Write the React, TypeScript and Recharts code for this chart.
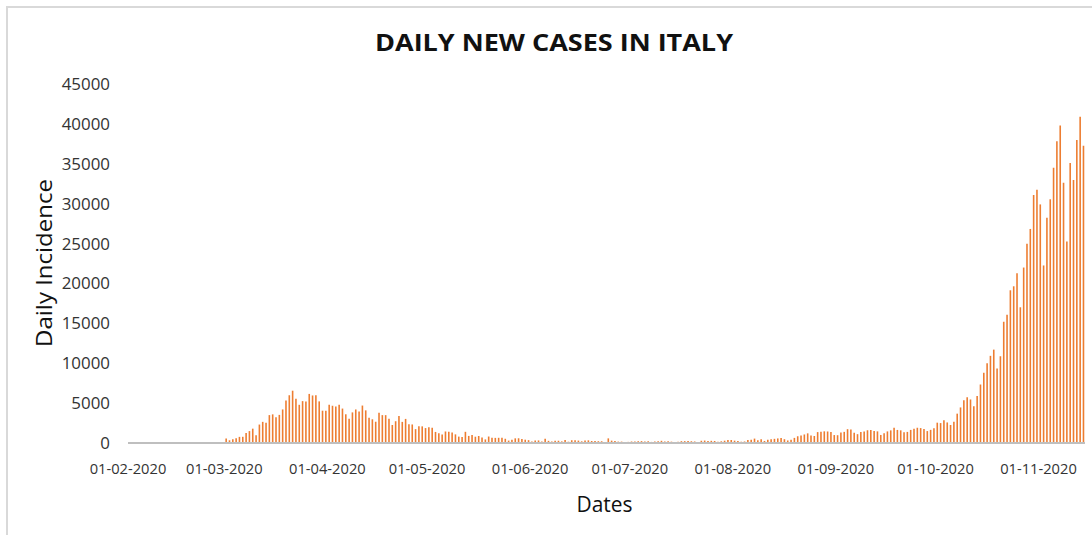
import React from "react";
import { BarChart, Bar, XAxis, YAxis } from "recharts";

// daily new cases, one array per month (01-02-2020 .. 14-11-2020)
const feb = [
  0, 0, 0, 0, 0, 0, 0, 0, 0, 0, 0, 0, 0, 0, 0, 0, 0, 0, 0, 0, 0, 0, 0, 0, 0, 0, 0, 0, 0,
];
const mar = [
  566, 342, 466, 587, 769, 778, 1247, 1492, 1797, 977, 2313, 2651, 2547, 3497, 3590, 3233,
  3526, 4207, 5322, 5986, 6557, 5560, 4789, 5249, 5210, 6153, 5959, 5974, 5217, 4050, 4053,
];
const apr = [
  4782, 4668, 4585, 4805, 4316, 3599, 3039, 3836, 4204, 3951, 4694, 4092, 3153, 2972, 2667,
  3786, 3493, 3491, 3047, 2256, 2729, 3370, 2646, 3021, 2357, 2324, 1739, 2091, 2086, 1872,
];
const may = [
  1965, 1900, 1389, 1221, 1075, 1444, 1401, 1327, 1083, 802, 744, 1402, 888, 992, 789, 875,
  675, 451, 813, 665, 642, 652, 669, 531, 300, 397, 584, 593, 516, 416, 355,
];
const jun = [
  178, 318, 321, 177, 518, 270, 197, 280, 283, 202, 379, 163, 346, 338, 301, 210, 329, 333,
  251, 262, 224, 218, 122, 580, 296, 259, 175, 174, 126, 142,
];
const jul = [
  187, 201, 223, 235, 192, 208, 138, 193, 229, 276, 188, 234, 169, 114, 162, 230, 233, 249,
  219, 190, 129, 282, 306, 252, 275, 255, 170, 212, 289, 386, 379,
];
const aug = [
  295, 239, 159, 190, 384, 402, 552, 347, 463, 259, 412, 481, 523, 574, 629, 479, 320, 403,
  642, 845, 947, 1071, 1210, 953, 878, 1367, 1411, 1462, 1444, 1365, 996,
];
const sep = [
  978, 1326, 1397, 1733, 1695, 1297, 1108, 1370, 1434, 1597, 1616, 1501, 1458, 1008, 1229,
  1452, 1585, 1907, 1638, 1587, 1350, 1392, 1640, 1786, 1912, 1869, 1766, 1494, 1648, 1851,
];
const oct = [
  2548, 2499, 2844, 2578, 2257, 2677, 3678, 4458, 5372, 5724, 5456, 4619, 5901, 7332, 8804,
  10010, 10925, 11705, 9338, 10874, 15199, 16079, 19143, 19644, 21273, 17012, 21994, 24991,
  26831, 31084, 31758,
];
const nov = [
  29907, 22253, 28244, 30550, 34505, 37809, 39811, 32616, 25271, 35098, 32961, 37978, 40902,
  37255,
];

const months = ["02", "03", "04", "05", "06", "07", "08", "09", "10", "11"];
const monthValues = [feb, mar, apr, may, jun, jul, aug, sep, oct, nov];

const monthTicks = [
  "01-02-2020", "01-03-2020", "01-04-2020", "01-05-2020", "01-06-2020",
  "01-07-2020", "01-08-2020", "01-09-2020", "01-10-2020", "01-11-2020",
];
const yTicks = [0, 5000, 10000, 15000, 20000, 25000, 30000, 35000, 40000, 45000];

const data: { date: string; cases: number }[] = [];
monthValues.forEach((vals, m) => {
  vals.forEach((v, d) => {
    data.push({ date: `${String(d + 1).padStart(2, "0")}-${months[m]}-2020`, cases: v });
  });
});

const W = 1092;
const H = 535;
const PLOT_LEFT = 128;
const PLOT_RIGHT = 1085;
const band = (PLOT_RIGHT - PLOT_LEFT) / data.length;

const font = "'Open Sans', 'Noto Sans', sans-serif";

const DateTick = (props: any) => {
  const { x, y, payload } = props;
  if (!monthTicks.includes(payload.value)) return <g />;
  return (
    <text
      x={x - band / 2}
      y={y + 31}
      textAnchor="middle"
      fontFamily={font}
      fontSize={14.7}
      fill="#333"
    >
      {payload.value}
    </text>
  );
};

export default function App() {
  return (
    <div
      style={{
        position: "absolute",
        left: 0,
        top: 0,
        width: W,
        height: H,
        overflow: "hidden",
        background: "#fff",
      }}
    >
      {/* chart area border, only left/top visible in the crop */}
      <div
        style={{
          position: "absolute",
          left: 6,
          top: 6,
          width: W + 20,
          height: H + 20,
          border: "2px solid #d9d9d9",
        }}
      />
      <div style={{ position: "absolute", left: 0, top: 0 }}>
        <BarChart
          width={W}
          height={H}
          data={data}
          margin={{ top: 84, right: W - PLOT_RIGHT, bottom: 0, left: 0 }}
        >
          <XAxis
            dataKey="date"
            interval={0}
            tick={<DateTick />}
            tickLine={false}
            tickSize={0}
            tickMargin={0}
            height={H - 443}
            axisLine={{ stroke: "#bfbfbf", strokeWidth: 2 }}
          />
          <YAxis
            type="number"
            domain={[0, 45000]}
            ticks={yTicks}
            width={PLOT_LEFT}
            axisLine={false}
            tickLine={false}
            tickSize={0}
            tickMargin={18}
            tick={{ fontFamily: font, fontSize: 16.9, fill: "#333" }}
          />
          <Bar dataKey="cases" fill="#ED7D31" barSize={1.6} isAnimationActive={false} />
        </BarChart>
      </div>
      <svg
        width={W}
        height={H}
        style={{ position: "absolute", left: 0, top: 0, pointerEvents: "none" }}
      >
        <text
          x={554}
          y={51}
          textAnchor="middle"
          fontFamily={font}
          fontWeight={700}
          fontSize={24}
          textLength={358}
          lengthAdjust="spacingAndGlyphs"
          fill="#111"
        >
          DAILY NEW CASES IN ITALY
        </text>
        <text
          x={604.5}
          y={512}
          textAnchor="middle"
          fontFamily={font}
          fontSize={22.5}
          textLength={56}
          lengthAdjust="spacingAndGlyphs"
          fill="#111"
        >
          Dates
        </text>
        <text
          transform="translate(52,263) rotate(-90)"
          textAnchor="middle"
          fontFamily={font}
          fontSize={22.5}
          textLength={168}
          lengthAdjust="spacingAndGlyphs"
          fill="#111"
        >
          Daily Incidence
        </text>
      </svg>
    </div>
  );
}
